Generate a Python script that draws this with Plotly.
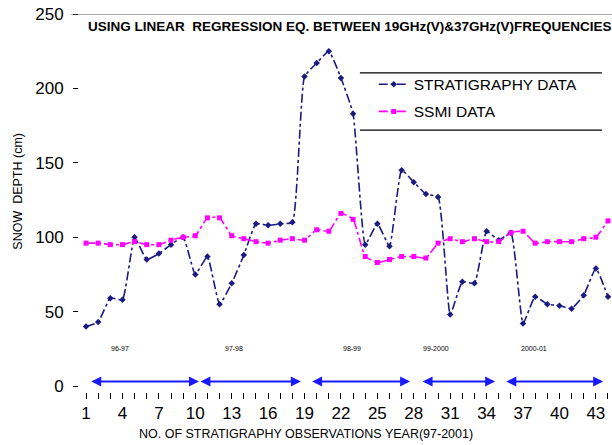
import plotly.graph_objects as go

# observation number (x) and snow depth values (cm)
OBS = list(range(1, 45))
STRATIGRAPHY = [40, 43, 59, 58, 100, 85, 89, 95, 100, 75,
                87, 55, 69, 88, 109, 108, 109, 110, 208, 217,
                225, 207, 183, 95, 109, 94, 145, 137, 129, 127,
                48, 70, 69, 104, 98, 103, 42, 60, 55, 54,
                52, 61, 79, 60]
SSMI = [96, 96, 95, 95, 97, 95, 95, 98, 100, 101,
        113, 113, 101, 99, 97, 96, 98, 99, 98, 105,
        104, 116, 112, 87, 83, 85, 87, 87, 86, 96,
        99, 97, 99, 97, 97, 103, 104, 96, 97, 97,
        97, 99, 100, 111]

# winter seasons marked under the curves
SEASONS = ["96-97", "97-98", "98-99", "99-2000", "2000-01"]
SEASON_START = [1.3, 10.3, 19.5, 28.6, 35.5]
SEASON_END = [10.3, 18.7, 27.7, 34.7, 43.6]
SEASON_LABEL_X = [3.8, 13.2, 22.9, 29.8, 37.9]

X_TICKS = list(range(1, 44, 3))
Y_TICKS = [0, 50, 100, 150, 200, 250]

NAVY = '#1a1a80'
MAGENTA = '#ff00ff'
ARROW_BLUE = '#1a1aff'
FONT = 'Liberation Sans'

fig = go.Figure()

fig.add_trace(go.Scatter(
    x=OBS, y=STRATIGRAPHY, name='STRATIGRAPHY DATA', legendgroup='a',
    mode='lines+markers',
    line=dict(color=NAVY, width=1.6, dash='dashdot', shape='spline', smoothing=0.4),
    marker=dict(symbol='diamond', size=5, color=NAVY)
))
fig.add_trace(go.Scatter(
    x=OBS, y=SSMI, name='SSMI DATA', legendgroup='b',
    mode='lines+markers',
    line=dict(color=MAGENTA, width=1.6, dash='dashdot', shape='spline', smoothing=0.4),
    marker=dict(symbol='square', size=5, color=MAGENTA)
))

# double headed arrows for each season
for s, e in zip(SEASON_START, SEASON_END):
    fig.add_annotation(x=e, y=3, ax=s, ay=3, xref='x', yref='y', axref='x', ayref='y',
                       text='', showarrow=True, arrowhead=2, startarrowhead=2,
                       arrowside='end+start', arrowsize=1, arrowwidth=2,
                       arrowcolor=ARROW_BLUE)
for lab, lx in zip(SEASONS, SEASON_LABEL_X):
    fig.add_annotation(x=lx, y=25, xref='x', yref='y', text=lab, showarrow=False,
                       font=dict(size=7, color='black', family=FONT))

fig.add_annotation(
    x=0.508, y=0.966, xref='paper', yref='paper', showarrow=False, yanchor='middle',
    text='<b>USING LINEAR  REGRESSION EQ. BETWEEN 19GHz(V)&37GHz(V)FREQUENCIES</b>',
    font=dict(size=13.5, color='black', family=FONT))

# axis titles
fig.add_annotation(
    x=0.426, y=-0.111, xref='paper', yref='paper', showarrow=False, yanchor='middle',
    text='NO. OF STRATIGRAPHY OBSERVATIONS YEAR(97-2001)',
    font=dict(size=12.5, color='black', family=FONT))
fig.add_annotation(
    x=-0.1144, y=0.53, xref='paper', yref='paper', showarrow=False, textangle=-90,
    xanchor='center', yanchor='middle',
    text='SNOW  DEPTH (cm)',
    font=dict(size=12.5, color='black', family=FONT))

# top border at 250 and legend rules
fig.add_shape(type='line', xref='paper', yref='y', x0=-0.015, x1=1, y0=250, y1=250,
              line=dict(color='#555555', width=1))
for yy in [0.844, 0.693]:
    fig.add_shape(type='line', xref='paper', yref='paper', x0=0.527, x1=0.981, y0=yy, y1=yy,
                  line=dict(color='black', width=1.2))

fig.update_xaxes(
    range=[0.42, 44.33], tickvals=X_TICKS, ticks='outside', ticklen=6, tickcolor='black',
    minor=dict(dtick=1, tick0=1, ticks='outside', ticklen=6, tickcolor='black'),
    showgrid=False, zeroline=False, showline=False, automargin=False,
    tickfont=dict(size=17, color='black', family=FONT)
)
fig.update_yaxes(
    range=[-4.03, 250], tickvals=Y_TICKS, ticks='outside', ticklen=5, tickcolor='black',
    showgrid=False, zeroline=False, showline=False, automargin=False,
    ticklabelstandoff=6,
    tickfont=dict(size=17, color='black', family=FONT)
)

fig.update_layout(
    width=612, height=445,
    margin=dict(l=79, r=0, t=14, b=53),
    paper_bgcolor='white', plot_bgcolor='white',
    showlegend=True,
    legend=dict(x=0.553, y=0.858, xanchor='left', yanchor='top',
                bgcolor='rgba(0,0,0,0)', tracegroupgap=4,
                font=dict(size=15.5, color='black', family=FONT))
)

fig.write_html("out.html", config={'displayModeBar': False},
               post_script="document.body.style.margin='0px';")
